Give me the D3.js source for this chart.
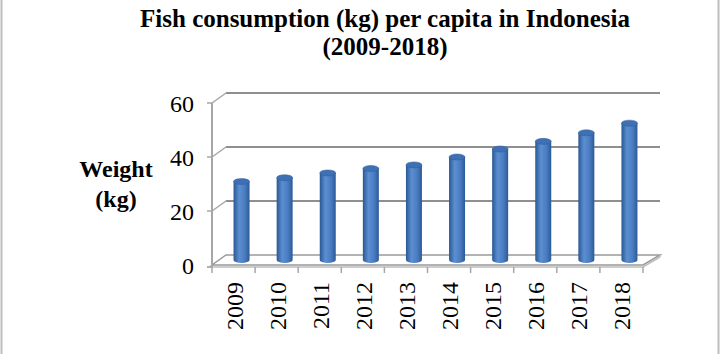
<!DOCTYPE html>
<html>
<head>
<meta charset="utf-8">
<script src="https://cdn.jsdelivr.net/npm/d3@7"></script>
<style>
  body { margin: 0; background: #fff; }
  text { font-family: "Liberation Serif", "Times New Roman", serif; fill: #000; }
</style>
</head>
<body>
<svg id="chart" width="725" height="354"></svg>
<script>
let years = ['2009','2010','2011','2012','2013','2014','2015','2016','2017','2018'];
let weights = [29.08, 30.48, 32.25, 33.89, 35.21, 38.14, 41.11, 43.94, 47.12, 50.69];
let yTicks = [0, 20, 40, 60];
let titleLines = ['Fish consumption (kg) per capita in Indonesia', '(2009-2018)'];
let yLabelLines = ['Weight', '(kg)'];

let data = years.map((d, i) => ({year: d, value: weights[i]}));

let svg = d3.select('#chart');
let x0 = 212, x1 = 643;
let depth = {x: 14, y: -10};

let xScale = d3.scaleBand().domain(years).range([x0, x1]);
let yScale = d3.scaleLinear().domain([0, 60]).range([265, 103]);

// frame lines
svg.append('line').attr('x1', 1.5).attr('x2', 1.5).attr('y1', 0).attr('y2', 354)
   .attr('stroke', '#bdbdbd').attr('stroke-width', 2);
svg.append('line').attr('x1', 718.5).attr('x2', 718.5).attr('y1', 0).attr('y2', 354)
   .attr('stroke', '#bdbdbd').attr('stroke-width', 2);

// title
svg.append('g').selectAll('text')
   .data(titleLines).enter().append('text')
   .attr('x', 385)
   .attr('y', (d, i) => 27 + i * 28)
   .attr('text-anchor', 'middle')
   .attr('font-size', '25px')
   .attr('font-weight', 'bold')
   .text(d => d);

// y axis title
svg.append('g').selectAll('text')
   .data(yLabelLines).enter().append('text')
   .attr('x', 116)
   .attr('y', (d, i) => 177 + i * 30)
   .attr('text-anchor', 'middle')
   .attr('font-size', '24px')
   .attr('font-weight', 'bold')
   .text(d => d);

// back wall gridlines
let grid = svg.append('g');
grid.selectAll('line.back')
    .data(yTicks.filter(d => d > 0)).enter().append('line')
    .attr('x1', x0 + depth.x).attr('x2', x1 + depth.x + 3)
    .attr('y1', d => yScale(d) + depth.y).attr('y2', d => yScale(d) + depth.y)
    .attr('stroke', '#8f8f8f').attr('stroke-width', 2);
grid.selectAll('line.side')
    .data(yTicks.filter(d => d > 0)).enter().append('line')
    .attr('x1', x0).attr('x2', x0 + depth.x)
    .attr('y1', d => yScale(d)).attr('y2', d => yScale(d) + depth.y)
    .attr('stroke', '#a6a6a6').attr('stroke-width', 1.5);

// floor
let y0 = yScale(0);
svg.append('path')
   .attr('d', `M${x0},${y0} L${x1},${y0} L${x1 + depth.x + 3},${y0 + depth.y} L${x0 + depth.x},${y0 + depth.y} Z`)
   .attr('fill', '#fff').attr('stroke', '#9a9a9a').attr('stroke-width', 1.5);
svg.append('path')
   .attr('d', `M${x0 - 5},${y0 + 2} L${x1},${y0 + 2} L${x1 + depth.x + 3},${y0 + depth.y + 2}`)
   .attr('fill', 'none').attr('stroke', '#bdbdbd').attr('stroke-width', 1.5);
svg.append('line').attr('x1', x1 + depth.x + 3).attr('x2', x1 + depth.x + 3)
   .attr('y1', y0 + depth.y).attr('y2', y0 + depth.y + 2)
   .attr('stroke', '#bdbdbd').attr('stroke-width', 1.5);

// y axis
svg.append('line').attr('x1', x0).attr('x2', x0)
   .attr('y1', yScale(60)).attr('y2', y0 + 2)
   .attr('stroke', '#a6a6a6').attr('stroke-width', 2);
svg.append('g').selectAll('line')
   .data(yTicks).enter().append('line')
   .attr('x1', x0 - 5).attr('x2', x0)
   .attr('y1', d => yScale(d) + (d == 0 ? 2 : 0)).attr('y2', d => yScale(d) + (d == 0 ? 2 : 0))
   .attr('stroke', '#a6a6a6').attr('stroke-width', 1.5);
svg.append('g').selectAll('text')
   .data(yTicks).enter().append('text')
   .attr('x', 194)
   .attr('y', d => yScale(d) + 1)
   .attr('text-anchor', 'end')
   .attr('dominant-baseline', 'central')
   .attr('font-size', '24px')
   .text(d => d);

// x ticks
let xTickPos = years.map(d => xScale(d)).concat([x1]);
svg.append('g').selectAll('line')
   .data(xTickPos).enter().append('line')
   .attr('x1', d => d).attr('x2', d => d)
   .attr('y1', y0 + 2).attr('y2', y0 + 8)
   .attr('stroke', '#a6a6a6').attr('stroke-width', 1.5);
svg.append('g').selectAll('text')
   .data(years).enter().append('text')
   .attr('transform', d => `translate(${xScale(d) + xScale.bandwidth() / 2 + 1},282) rotate(-90)`)
   .attr('text-anchor', 'end')
   .attr('dominant-baseline', 'central')
   .attr('font-size', '24px')
   .text(d => d);

// bars (cylinders)
let defs = svg.append('defs');
let grad = defs.append('linearGradient').attr('id', 'cyl').attr('x1', '0%').attr('x2', '100%');
grad.append('stop').attr('offset', '0%').attr('stop-color', '#2a5793');
grad.append('stop').attr('offset', '35%').attr('stop-color', '#5b8fd2');
grad.append('stop').attr('offset', '70%').attr('stop-color', '#4a7cc0');
grad.append('stop').attr('offset', '100%').attr('stop-color', '#2c5a98');

let barW = 16, ry = 3;
let base = y0 + depth.y / 2;
let bars = svg.append('g').selectAll('g')
   .data(data).enter().append('g')
   .attr('transform', d => `translate(${xScale(d.year) + xScale.bandwidth() / 2 + depth.x / 2 + 1},0)`);
bars.append('path')
   .attr('d', d => {
       let top = base - (y0 - yScale(d.value));
       return `M${-barW / 2},${top} L${-barW / 2},${base} A${barW / 2},${ry} 0 0 0 ${barW / 2},${base} L${barW / 2},${top} Z`;
   })
   .attr('fill', 'url(#cyl)');
bars.append('ellipse')
   .attr('cx', 0)
   .attr('cy', d => base - (y0 - yScale(d.value)))
   .attr('rx', barW / 2).attr('ry', ry)
   .attr('fill', '#3f70b4').attr('stroke', '#2f5c9c').attr('stroke-width', 0.5);
</script>
</body>
</html>
